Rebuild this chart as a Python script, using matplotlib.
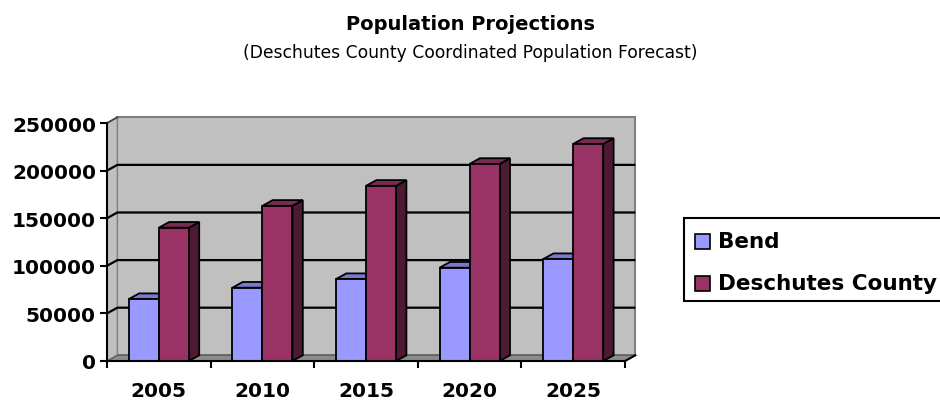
# Population projections chart (Excel style 3D columns drawn with 2D patches)
import matplotlib
matplotlib.use('Agg')
import matplotlib.pyplot as plt
from matplotlib.patches import Polygon, Rectangle

# Data
years = ['2005', '2010', '2015', '2020', '2025']
bend = [65000, 77000, 86000, 98000, 107000]
county = [140000, 163000, 184000, 207000, 228000]
series_names = ['Bend', 'Deschutes County']
yticks = [0, 50000, 100000, 150000, 200000, 250000]

# colours: front, top, side
bend_cols = ['#9999FF', '#7878CC', '#4D4D80']
county_cols = ['#993366', '#7A2952', '#4D1A33']

plt.rcParams['font.family'] = 'DejaVu Sans'

fig = plt.figure(figsize=(9.4, 4.02), dpi=100)
ax = fig.add_axes([107 / 940, 40 / 402, 518 / 940, 238 / 402])

n = len(years)
ymax = yticks[-1]
dx = 0.1      # depth offset in category units
dy = 6000     # depth offset in value units
w = 0.29      # bar width

# back wall, left wall and floor
ax.add_patch(Polygon([(dx, dy), (n + dx, dy), (n + dx, ymax + dy), (dx, ymax + dy)],
                     closed=True, facecolor='#C0C0C0', edgecolor='#808080', lw=1.5,
                     zorder=0, clip_on=False))
ax.add_patch(Polygon([(0, 0), (dx, dy), (dx, ymax + dy), (0, ymax)],
                     closed=True, facecolor='#C0C0C0', edgecolor='#808080', lw=1,
                     zorder=0, clip_on=False))
ax.add_patch(Polygon([(0, 0), (n, 0), (n + dx, dy), (dx, dy)],
                     closed=True, facecolor='#8C8C8C', edgecolor='#606060', lw=1,
                     zorder=0.5, clip_on=False))

# gridlines on back and left wall
for v in yticks[1:-1]:
    ax.plot([0, dx, n + dx], [v, v + dy, v + dy], color='black', lw=1.6,
            zorder=0.6, clip_on=False, solid_capstyle='butt')
ax.plot([0, dx], [ymax, ymax + dy], color='#404040', lw=1.2, zorder=0.6, clip_on=False)
ax.plot([n, n + dx], [0, dy], color='black', lw=1.5, zorder=3, clip_on=False)


def bar3d(x0, h, cols, z):
    front = Rectangle((x0, 0), w, h, facecolor=cols[0], edgecolor='black', lw=1.3,
                      zorder=z, clip_on=False)
    top = Polygon([(x0, h), (x0 + w, h), (x0 + w + dx, h + dy), (x0 + dx, h + dy)],
                  closed=True, facecolor=cols[1], edgecolor='black', lw=1.3,
                  zorder=z, clip_on=False)
    side = Polygon([(x0 + w, 0), (x0 + w + dx, dy), (x0 + w + dx, h + dy), (x0 + w, h)],
                   closed=True, facecolor=cols[2], edgecolor='black', lw=1.3,
                   zorder=z, clip_on=False)
    for p in (side, top, front):
        ax.add_patch(p)


for i in range(n):
    bar3d(i + 0.5 - w, bend[i], bend_cols, 2 + i * 0.1)
    bar3d(i + 0.5, county[i], county_cols, 2.05 + i * 0.1)

ax.set_xlim(0, n)
ax.set_ylim(0, ymax)

# axes look
for s in ['top', 'right']:
    ax.spines[s].set_visible(False)
for s in ['left', 'bottom']:
    ax.spines[s].set_linewidth(1.5)
    ax.spines[s].set_zorder(3)
ax.set_facecolor('none')

ax.set_yticks(yticks)
ax.set_yticklabels([str(v) for v in yticks], fontsize=14.5, fontweight='bold')
ax.tick_params(axis='y', length=5, width=1.5, pad=3)

ax.set_xticks(range(n + 1))
ax.set_xticklabels([])
ax.set_xticks([i + 0.5 for i in range(n)], minor=True)
ax.set_xticklabels(years, minor=True, fontsize=14.5, fontweight='bold')
ax.tick_params(axis='x', which='major', length=5, width=1.5)
ax.tick_params(axis='x', which='minor', length=0, pad=14.5)

# titles
fig.text(0.5, 1 - 24 / 402, 'Population Projections', ha='center', va='center',
         fontsize=14, fontweight='bold')
fig.text(0.5, 1 - 53 / 402, '(Deschutes County Coordinated Population Forecast)',
         ha='center', va='center', fontsize=12.3)

# legend box drawn by hand to match the original
fig.add_artist(Rectangle((684 / 940, 1 - 302 / 402), 270 / 940, 83 / 402,
                         transform=fig.transFigure, facecolor='white',
                         edgecolor='black', lw=1.5))
for k, (name, cols) in enumerate(zip(series_names, [bend_cols, county_cols])):
    yc = 1 - (242 + 42 * k) / 402
    fig.add_artist(Rectangle((695 / 940, yc - 7.5 / 402), 15 / 940, 15 / 402,
                             transform=fig.transFigure, facecolor=cols[0],
                             edgecolor='black', lw=1.2))
    fig.text(718 / 940, yc, name, ha='left', va='center', fontsize=15.5,
             fontweight='bold')

plt.savefig('out.png', dpi=100)
